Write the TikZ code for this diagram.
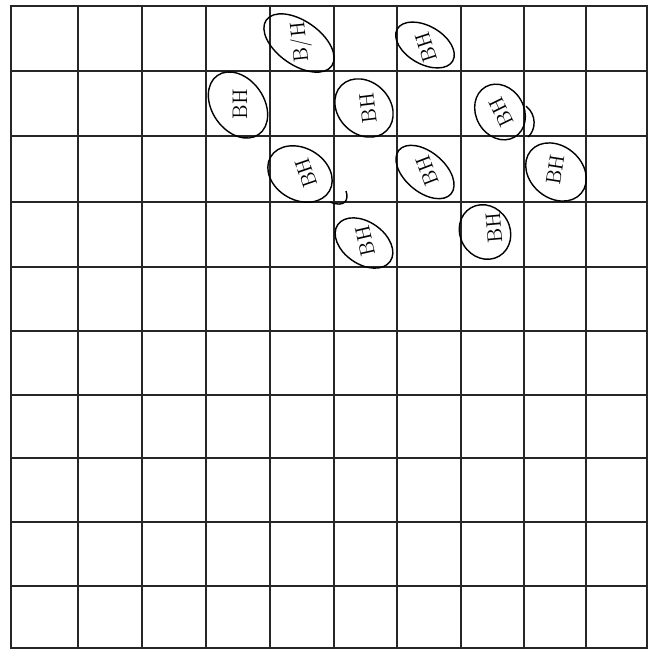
\documentclass[tikz,border=0pt]{standalone}
\usepackage{tikz}
\begin{document}
\begin{tikzpicture}[x=0.02cm, y=0.02cm,
  gridline/.style={line width=0.7pt, black!85},
  frame/.style={line width=1.6pt, black!85},
  loop/.style={line width=0.8pt},
  bh/.style={font=\large, inner sep=0pt}
]
\useasboundingbox (0,0) rectangle (650,-653);

% grid
\foreach \gx in {78,142,206,270,334,397,461,524,586}
  \draw[gridline] (\gx,-6) -- (\gx,-648);
\foreach \gy in {71,136,202,267,331,395,458,522,586}
  \draw[gridline] (11,-\gy) -- (647,-\gy);
\draw[frame] (11,-6) rectangle (647,-648);

% circled marks
\draw[loop] (299,-43)  ellipse [x radius=40, y radius=22, rotate=-35];
\node[bh, rotate=96]  (bh1)  at (301,-42)  {B/H};

\draw[loop] (425,-45)  ellipse [x radius=32, y radius=19, rotate=-30];
\node[bh, rotate=108] (bh2)  at (426,-47)  {BH};

\draw[loop] (238,-105) ellipse [x radius=36, y radius=26, rotate=-55];
\node[bh, rotate=90]  (bh3)  at (240,-104) {BH};

\draw[loop] (364,-108) ellipse [x radius=32, y radius=26, rotate=-45];
\node[bh, rotate=97]  (bh4)  at (368,-108) {BH};

\draw[loop] (500,-112) ellipse [x radius=29, y radius=24, rotate=-60];
\node[bh, rotate=116] (bh5)  at (501,-112) {BH};
\draw[loop] (526,-106) .. controls (537,-115) and (536,-130) .. (528,-137);

\draw[loop] (300,-174) ellipse [x radius=34, y radius=26, rotate=-30];
\node[bh, rotate=109] (bh6)  at (306,-173) {BH};
\draw[loop] (330,-202) .. controls (345,-208) and (349,-200) .. (346,-191);

\draw[loop] (425,-172) ellipse [x radius=34, y radius=20, rotate=-40];
\node[bh, rotate=111] (bh7)  at (427,-171) {BH};

\draw[loop] (556,-172) ellipse [x radius=33, y radius=26, rotate=-40];
\node[bh, rotate=81]  (bh8)  at (555,-170) {BH};

\draw[loop] (364,-243) ellipse [x radius=32, y radius=21, rotate=-35];
\node[bh, rotate=103] (bh9)  at (365,-241) {BH};

\draw[loop] (485,-232) ellipse [x radius=28, y radius=25, rotate=-60];
\node[bh, rotate=95]  (bh10) at (494,-228) {BH};
\end{tikzpicture}
\end{document}
